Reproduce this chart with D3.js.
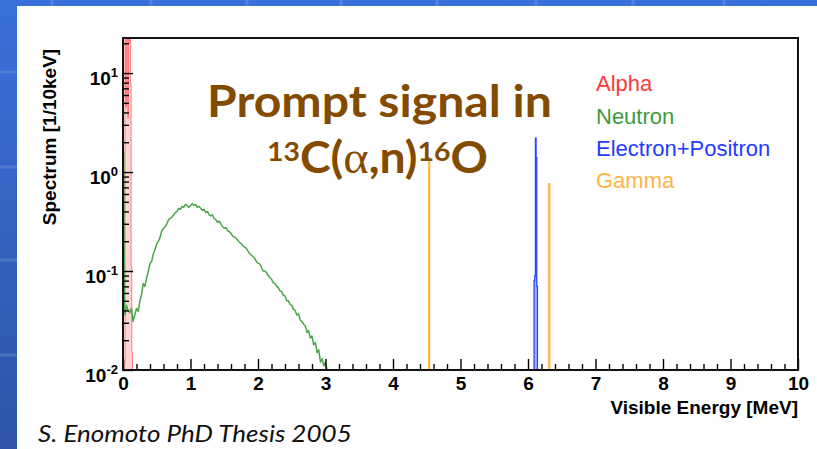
<!DOCTYPE html>
<html><head><meta charset="utf-8">
<script src="https://cdn.jsdelivr.net/npm/d3@7"></script>
<style>html,body{margin:0;padding:0;background:#fff;overflow:hidden}</style>
</head><body><svg id="c" width="817" height="449"></svg>
<script>
// ---- data ----
const xTickValues = [0,1,2,3,4,5,6,7,8,9,10];
const yTickValues = [0.01, 0.1, 1, 10];
const yTickExponents = ["-2", "-1", "0", "1"];

// Alpha histogram (bin start MeV, counts per 10 keV)
const alphaEnergy = [0.02,0.03,0.04,0.05,0.06,0.07,0.08,0.09,0.10,0.11,0.12,0.13];
const alphaCount  = [0.012,25,4.5,40,30,3.5,50,20,35,8,0.11,0.015];

// Neutron spectrum
const neutronEnergy = [0.00,0.01,0.02,0.03,0.05,0.075,0.10,0.125,0.15,0.175,0.20,0.225,0.25,0.275,0.30,0.325,0.35,0.375,0.40,0.425,0.45,0.475,0.50,0.525,0.55,0.575,0.60,0.625,0.65,0.675,0.70,0.725,0.75,0.775,0.80,0.825,0.85,0.875,0.90,0.925,0.95,0.975,1.00,1.025,1.05,1.075,1.10,1.125,1.15,1.175,1.20,1.225,1.25,1.275,1.30,1.325,1.35,1.375,1.40,1.425,1.45,1.475,1.50,1.525,1.55,1.575,1.60,1.625,1.65,1.675,1.70,1.725,1.75,1.775,1.80,1.825,1.85,1.875,1.90,1.925,1.95,1.975,2.00,2.025,2.05,2.075,2.10,2.125,2.15,2.175,2.20,2.225,2.25,2.275,2.30,2.325,2.35,2.375,2.40,2.425,2.45,2.475,2.50,2.525,2.55,2.575,2.60,2.625,2.65,2.675,2.70,2.725,2.75,2.775,2.80,2.825,2.85,2.875,2.90,2.925,2.95,2.975,3.00,3.025,3.05,3.075];
const neutronCount  = [1.7,1.6,0.04,0.036,0.045,0.04,0.038,0.042,0.031,0.036,0.042,0.039,0.05,0.058,0.075,0.07,0.085,0.1,0.12,0.125,0.15,0.165,0.19,0.2,0.22,0.255,0.27,0.28,0.30,0.33,0.34,0.35,0.37,0.39,0.40,0.43,0.42,0.45,0.44,0.47,0.46,0.44,0.46,0.48,0.46,0.47,0.44,0.45,0.43,0.41,0.42,0.39,0.40,0.37,0.36,0.37,0.34,0.33,0.31,0.32,0.30,0.28,0.27,0.275,0.255,0.25,0.24,0.225,0.22,0.215,0.205,0.195,0.19,0.18,0.175,0.17,0.16,0.15,0.145,0.14,0.135,0.125,0.12,0.118,0.11,0.10,0.10,0.097,0.09,0.086,0.083,0.076,0.075,0.07,0.068,0.063,0.062,0.057,0.056,0.05,0.05,0.046,0.045,0.041,0.04,0.036,0.037,0.032,0.031,0.029,0.028,0.024,0.025,0.021,0.022,0.018,0.019,0.015,0.016,0.012,0.013,0.011,0.012,0.009,0.01,0.007];

// Electron+Positron histogram
const pairEnergy = [6.09,6.10,6.11,6.12,6.13,6.14];
const pairCount  = [0.08,0.09,2.2,1.4,0.07,0.005];

// Gamma histogram
const gammaEnergy = [4.52,4.53,4.54,6.30,6.31,6.32];
const gammaCount  = [0.001,1.4,0.001,0.001,0.76,0.001];

const legendLabels = ["Alpha","Neutron","Electron+Positron","Gamma"];
const legendColors = ["#ff3838","#3f9a3f","#1f3cff","#ffb443"];

// ---- layout ----
const W = 817, H = 449;
const pLeft = 123, pRight = 798, pTop = 38, pBottom = 370;
const svg = d3.select("#c");

// slide background
const defs = svg.append("defs");
const grad = defs.append("linearGradient").attr("id","bg").attr("x1",0).attr("y1",0).attr("x2",0).attr("y2",1);
grad.append("stop").attr("offset","0%").attr("stop-color","#3a70da");
grad.append("stop").attr("offset","100%").attr("stop-color","#2e55a8");
svg.append("rect").attr("width",W).attr("height",H).attr("fill","url(#bg)");
const gridV = [52,151,247,341,437,536,633,724];
const gridH = [72,167,260,355];
svg.selectAll(".gv").data(gridV).enter().append("line")
  .attr("x1",d=>d).attr("x2",d=>d).attr("y1",0).attr("y2",H)
  .attr("stroke","rgba(255,255,255,0.13)").attr("stroke-width",3);
svg.selectAll(".gh").data(gridH).enter().append("line")
  .attr("x1",0).attr("x2",W).attr("y1",d=>d).attr("y2",d=>d)
  .attr("stroke","rgba(255,255,255,0.13)").attr("stroke-width",3);
svg.append("rect").attr("x",17).attr("y",6).attr("width",W-17).attr("height",H-6).attr("fill","#ffffff");

// scales
const x = d3.scaleLinear().domain([0,10]).range([pLeft,pRight]);
const y = d3.scaleLog().domain([0.01, 22.6]).range([pBottom,pTop]).clamp(true);

defs.append("clipPath").attr("id","plot").append("rect")
  .attr("x",pLeft).attr("y",pTop).attr("width",pRight-pLeft).attr("height",pBottom-pTop);

function stepPoints(E, C, w) {
  const pts = [];
  for (let i = 0; i < E.length; i++) {
    const gapBefore = i === 0 || Math.abs(E[i] - (E[i-1] + w)) > 1e-6;
    const gapAfter = i === E.length - 1 || Math.abs(E[i+1] - (E[i] + w)) > 1e-6;
    if (gapBefore) pts.push([E[i], 0.0001]);
    pts.push([E[i], C[i]]);
    pts.push([E[i] + w, C[i]]);
    if (gapAfter) pts.push([E[i] + w, 0.0001]);
  }
  return pts;
}
const line = d3.line().x(d => x(d[0])).y(d => y(d[1]));
const plot = svg.append("g").attr("clip-path","url(#plot)");

// alpha
plot.append("path").datum(stepPoints(alphaEnergy, alphaCount, 0.01))
  .attr("d", line).attr("fill","#ffd6d6").attr("stroke","#ff6060").attr("stroke-width",0.8);
// neutron
plot.append("path").datum(neutronEnergy.map((e,i)=>[e, neutronCount[i]]))
  .attr("d", line).attr("fill","none").attr("stroke","#4aa64a").attr("stroke-width",1.5)
  .attr("stroke-linejoin","round");
// gamma
plot.append("path").datum(stepPoints(gammaEnergy, gammaCount, 0.01))
  .attr("d", line).attr("fill","#ffc870").attr("stroke","#ffb443").attr("stroke-width",1.6);
// electron+positron
plot.append("path").datum(stepPoints(pairEnergy, pairCount, 0.01))
  .attr("d", line).attr("fill","#a8b4ff").attr("stroke","#2a48ff").attr("stroke-width",1.3);

// axes
const xMinor = d3.range(0, 10.001, 0.2).filter(v => Math.abs(v - Math.round(v)) > 1e-6);
const yMinor = [];
[-2,-1,0,1].forEach(p => { for (let m = 2; m <= 9; m++) { const v = m * Math.pow(10,p); if (v <= 22.6) yMinor.push(v); } });

const axStyle = g => { g.select(".domain").remove(); g.selectAll("line").attr("stroke","#000").attr("stroke-width",1.4); };

svg.append("g").attr("transform",`translate(0,${pBottom})`)
  .call(d3.axisBottom(x).tickValues(xMinor).tickSize(-6).tickFormat("")).call(axStyle);
const gx = svg.append("g").attr("transform",`translate(0,${pBottom})`)
  .call(d3.axisBottom(x).tickValues(xTickValues).tickSize(-11).tickPadding(7).tickFormat(d3.format("d"))).call(axStyle);
gx.selectAll("text").attr("font-family","'Liberation Sans', Arial, sans-serif").attr("font-weight","bold")
  .attr("font-size",19).attr("fill","#000");

svg.append("g").attr("transform",`translate(${pLeft},0)`)
  .call(d3.axisLeft(y).tickValues(yMinor).tickSize(-6).tickFormat("")).call(axStyle);
const gy = svg.append("g").attr("transform",`translate(${pLeft},0)`)
  .call(d3.axisLeft(y).tickValues(yTickValues).tickSize(-10).tickPadding(5).tickFormat(() => "10")).call(axStyle);
gy.selectAll("text").each(function(d, i) {
  const t = d3.select(this).attr("dy", "11px").attr("font-family","'Liberation Sans', Arial, sans-serif")
    .attr("font-weight","bold").attr("font-size",19).attr("fill","#000");
  t.text(null);
  t.append("tspan").text("10");
  t.append("tspan").attr("dy", -8).attr("font-size", 13).text(yTickExponents[i]);
});

// frame
svg.append("rect").attr("x",pLeft).attr("y",pTop).attr("width",pRight-pLeft).attr("height",pBottom-pTop)
  .attr("fill","none").attr("stroke","#111").attr("stroke-width",2);

// axis titles
svg.append("text").attr("x",pRight).attr("y",414).attr("text-anchor","end")
  .attr("font-family","'Liberation Sans', Arial, sans-serif").attr("font-weight","bold").attr("font-size",19)
  .text("Visible Energy [MeV]");
svg.append("text").attr("transform","translate(56,137) rotate(-90)").attr("text-anchor","middle")
  .attr("font-family","'Liberation Sans', Arial, sans-serif").attr("font-weight","bold").attr("font-size",19)
  .text("Spectrum [1/10keV]");

// legend
const legendBaselines = [91,124,156,188];
svg.selectAll(".leg").data(legendLabels).enter().append("text")
  .attr("x",596).attr("y",(d,i)=>legendBaselines[i])
  .attr("font-family","'Liberation Sans', Arial, sans-serif").attr("font-size",22)
  .attr("fill",(d,i)=>legendColors[i]).text(d=>d);

// annotation
const brown = "#824b00";
function fitWidth(sel, x0, target) {
  const w = sel.node().getBBox().width;
  const s = target / w;
  sel.attr("transform", `translate(${x0},0) scale(${s},1) translate(${-x0},0)`);
}
const t1 = svg.append("text").attr("x",207).attr("y",117)
  .attr("font-family","Lato, 'Open Sans', sans-serif").attr("font-weight","bold").attr("font-size",44)
  .attr("fill",brown).text("Prompt signal in");
fitWidth(t1, 207, 345);
const t2 = svg.append("text").attr("x",267).attr("y",173)
  .attr("font-family","Lato, 'Open Sans', sans-serif").attr("font-weight","bold").attr("font-size",44)
  .attr("fill",brown);
t2.append("tspan").attr("font-size",27).attr("dy",-12).text("13");
t2.append("tspan").attr("dy",12).text("C(");
t2.append("tspan").attr("font-family","'Liberation Serif', serif").attr("font-weight","normal").attr("font-size",46).text("α");
t2.append("tspan").text(",n)");
t2.append("tspan").attr("font-size",27).attr("dy",-12).text("16");
t2.append("tspan").attr("dy",12).text("O");
fitWidth(t2, 267, 221);

// citation
const t3 = svg.append("text").attr("x",38).attr("y",442)
  .attr("font-family","Lato, 'Open Sans', sans-serif").attr("font-style","italic").attr("font-size",24)
  .attr("fill","#111").text("S. Enomoto PhD Thesis 2005");
fitWidth(t3, 38, 314);
</script>
</body></html>
